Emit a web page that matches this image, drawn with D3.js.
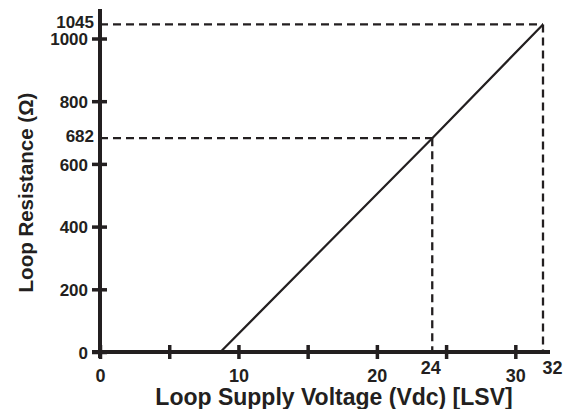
<!DOCTYPE html>
<html><head><meta charset="utf-8">
<script src="https://cdn.jsdelivr.net/npm/d3@7"></script>
<style>
html,body{margin:0;padding:0;background:#fff;}
svg text{font-family:"Liberation Sans",Arial,Helvetica,sans-serif;font-weight:700;}
</style></head>
<body><svg id="c" width="565" height="409"></svg>
<script>
// Data
const xTicks = [0, 5, 10, 15, 20, 25, 30];
const xTickLabels = [0, 10, 20, 30];
const yTicks = [0, 200, 400, 600, 800, 1000];
const lineVolts = [8.7, 24, 32];
const lineOhms = [0, 682, 1045];
const markVolts = [24, 32];
const markOhms = [682, 1045];
const xTitle = "Loop Supply Voltage (Vdc) [LSV]";
const yTitle = "Loop Resistance (Ω)";

const ink = "#231f20";
const svg = d3.select("#c");
const x = d3.scaleLinear().domain([0, 32]).range([100, 543]);
const y = d3.scaleLinear().domain([0, 1000]).range([352, 38.5]);

function txt(sel, size) {
  return sel.attr("font-size", size).attr("fill", ink);
}

// dashed reference lines
markVolts.forEach((v, i) => {
  const r = markOhms[i];
  svg.append("line").attr("x1", x(0)).attr("x2", x(v)).attr("y1", y(r)).attr("y2", y(r))
    .attr("stroke", ink).attr("stroke-width", 2.3).attr("stroke-dasharray", "8,5");
  svg.append("line").attr("x1", x(v)).attr("x2", x(v)).attr("y1", y(r)).attr("y2", y(0))
    .attr("stroke", ink).attr("stroke-width", 2.3).attr("stroke-dasharray", "8,5");
});

// main line
const pts = lineVolts.map((v, i) => [v, lineOhms[i]]);
svg.append("path").datum(pts)
  .attr("d", d3.line().x(d => x(d[0])).y(d => y(d[1])))
  .attr("fill", "none").attr("stroke", ink).attr("stroke-width", 2.2);

// Y axis
const yAxis = svg.append("g").attr("transform", `translate(${x(0)},0)`)
  .call(d3.axisLeft(y).tickValues(yTicks).tickSize(8).tickFormat(d3.format("d")));
yAxis.select(".domain").remove();
yAxis.selectAll(".tick line").attr("x1", -8).attr("x2", 7).attr("stroke", ink).attr("stroke-width", 3.5);
txt(yAxis.selectAll(".tick text"), 17).attr("x", -12).attr("dy", "0.36em");

// Y marker labels (second axis, no tick lines)
const yMark = svg.append("g").attr("transform", `translate(${x(0)},0)`)
  .call(d3.axisLeft(y).tickValues(markOhms).tickSize(0).tickFormat(d3.format("d")));
yMark.select(".domain").remove();
txt(yMark.selectAll(".tick text"), 17).attr("x", -6).attr("dy", "0.2em");

// X axis
const xAxis = svg.append("g").attr("transform", `translate(0,${y(0)})`)
  .call(d3.axisBottom(x).tickValues(xTicks).tickSize(7)
    .tickFormat(d => xTickLabels.includes(d) ? d : ""));
xAxis.select(".domain").remove();
xAxis.selectAll(".tick line").attr("y1", -7).attr("y2", 7).attr("stroke", ink).attr("stroke-width", 3.5);
txt(xAxis.selectAll(".tick text"), 18).attr("y", 29.5).attr("dy", 0);

// X marker labels
const xMark = svg.append("g").attr("transform", `translate(0,${y(0)})`)
  .call(d3.axisBottom(x).tickValues(markVolts).tickSize(0));
xMark.select(".domain").remove();
txt(xMark.selectAll(".tick text"), 18).attr("y", 22).attr("dy", 0)
  .attr("x", d => d === 32 ? 9 : -2);

// axis lines
svg.append("line").attr("x1", x(0)).attr("x2", x(0)).attr("y1", 9).attr("y2", y(0) + 6)
  .attr("stroke", ink).attr("stroke-width", 4);
svg.append("line").attr("x1", x(0) - 8).attr("x2", 550).attr("y1", y(0)).attr("y2", y(0))
  .attr("stroke", ink).attr("stroke-width", 4);

// titles
txt(svg.append("text"), 23).attr("x", 334).attr("y", 405).attr("text-anchor", "middle").text(xTitle);
txt(svg.append("text"), 20.5).attr("transform", "translate(33,192.5) rotate(-90)")
  .attr("text-anchor", "middle").text(yTitle);
</script></body></html>
